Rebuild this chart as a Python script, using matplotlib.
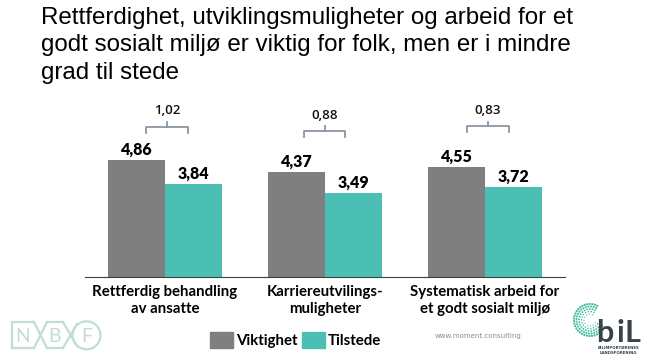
import numpy as np
import matplotlib.pyplot as plt
from matplotlib.patches import Rectangle, Circle

title_lines = [
    "Rettferdighet, utviklingsmuligheter og arbeid for et",
    "godt sosialt miljø er viktig for folk, men er i mindre",
    "grad til stede",
]
categories = ["Rettferdig behandling\nav ansatte", "Karriereutvilings-\nmuligheter",
              "Systematisk arbeid for\net godt sosialt miljø"]
series_names = ["Viktighet", "Tilstede"]
viktighet = [4.86, 4.37, 4.55]
tilstede = [3.84, 3.49, 3.72]
gap_labels = ["1,02", "0,88", "0,83"]

GREY = "#7F7F7F"
TEAL = "#4BBFB4"
BRACKET = "#8A96A3"
W, H = 648, 363

fig = plt.figure(figsize=(W / 100, H / 100), dpi=100)

# overlay in pixel coordinates for title, legend and logos
lay = fig.add_axes([0, 0, 1, 1])
lay.set_xlim(0, W)
lay.set_ylim(H, 0)
lay.axis("off")

# main axes: baseline at y=277px, x from 85 to 565px
ax = fig.add_axes([85 / W, 1 - 277 / H, 480 / W, (277 - 98.7) / H])
x = np.arange(len(categories))
bw = 0.356
ax.bar(x - bw / 2, viktighet, bw, color=GREY)
ax.bar(x + bw / 2, tilstede, bw, color=TEAL)
ax.set_xlim(-0.5, 2.5)
ax.set_ylim(0, 7.4)
ax.patch.set_alpha(0)
for s in ["top", "right", "left"]:
    ax.spines[s].set_visible(False)
ax.spines["bottom"].set_color("#404040")
ax.spines["bottom"].set_linewidth(0.8)
ax.set_yticks([])
ax.set_xticks(x)
ax.set_xticklabels(categories, fontsize=10.8, fontweight="bold", family="Lato", linespacing=1.2)
ax.tick_params(axis="x", length=0, pad=6)

for i in range(len(categories)):
    ax.text(x[i] - bw / 2, viktighet[i] + 0.1, f"{viktighet[i]:.2f}".replace(".", ","),
            ha="center", va="bottom", fontsize=11.5, fontweight="heavy", family="Lato")
    ax.text(x[i] + bw / 2, tilstede[i] + 0.1, f"{tilstede[i]:.2f}".replace(".", ","),
            ha="center", va="bottom", fontsize=11.5, fontweight="heavy", family="Lato")

# difference brackets
bracket_y = [6.24, 6.06, 6.25]
bracket_dx = [0.013, -0.003, 0.019]
for i in range(len(categories)):
    cx = x[i] + bracket_dx[i]
    y0 = bracket_y[i]
    half = 0.13
    ax.plot([cx - half, cx - half, cx + half, cx + half], [y0 - 0.25, y0, y0, y0 - 0.25],
            color=BRACKET, lw=1.3, clip_on=False)
    ax.plot([cx, cx], [y0, y0 + 0.2], color=BRACKET, lw=1.3, clip_on=False)
    ax.text(cx, y0 + 0.65, gap_labels[i], ha="center", va="center", fontsize=9.5,
            family="Open Sans", fontweight="semibold", color="#111111")

# title
for k, line in enumerate(title_lines):
    lay.text(41, 24 + 27.5 * k, line, fontsize=17.4, family="Liberation Sans",
             va="baseline", ha="left")

# legend
colors = [GREY, TEAL]
leg_x = [210, 302]
for name, c, lx in zip(series_names, colors, leg_x):
    lay.add_patch(Rectangle((lx, 332), 23, 16, color=c))
    lay.text(lx + 26, 341, name, fontsize=10.8, fontweight="bold", family="Lato",
             va="center", ha="left")

lay.text(478, 336, "www.moment.consulting", fontsize=5, color="#8C8C8C",
         ha="center", va="center")

# NXBF logo
lc = "#C3DCD8"
segs = [
    ([34, 12, 12, 34], [322, 322, 348, 348]),
    ([34, 47], [322, 348]),
    ([34, 47], [348, 322]),
    ([47, 63], [322, 322]),
    ([47, 63], [348, 348]),
    ([63, 77], [322, 346]),
    ([63, 77], [348, 324]),
]
for sx, sy in segs:
    lay.plot(sx, sy, color=lc, lw=1.6, solid_joinstyle="miter")
lay.add_patch(Circle((86.5, 335.3), 14, fill=False, ec=lc, lw=1.6))
for ch, px in zip("NBF", [23, 54, 86.5]):
    lay.text(px, 336, ch, fontsize=14, color=lc, ha="center", va="center", family="Lato")

# BIL logo
for r, n, sz in [(6, 10, 0.6), (8.5, 15, 0.75), (11, 20, 0.9), (13.5, 25, 1.0), (16, 30, 1.1)]:
    ang = np.linspace(-0.15 * np.pi, 1.35 * np.pi, n)
    px = 590 + r * np.cos(ang + np.pi / 2)
    py = 320 - r * np.sin(ang + np.pi / 2)
    for a, b in zip(px, py):
        lay.add_patch(Circle((a, b), sz, color="#3DBB9C", lw=0))
for ch, px in zip("biL", [604.5, 620, 632]):
    lay.text(px, 341.7, ch, fontsize=22, fontweight="bold", color="#3B4148",
             ha="center", va="baseline", family="Lato")
lay.text(618, 347.7, "BILIMPORTØRENES", fontsize=2.8, color="#3B4148",
         ha="center", va="center", fontweight="bold")
lay.text(618, 352.5, "LANDSFORENING", fontsize=2.8, color="#3B4148",
         ha="center", va="center", fontweight="bold")

fig.savefig("out.png", dpi=100)
